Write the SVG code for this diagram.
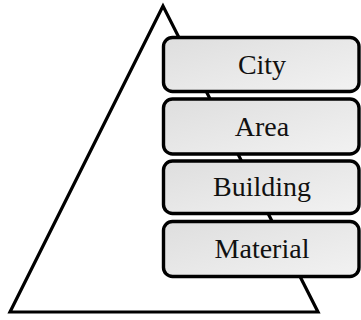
<svg xmlns="http://www.w3.org/2000/svg" width="361" height="320" viewBox="0 0 361 320">
  <defs>
    <linearGradient id="boxFill" x1="0" y1="0" x2="1" y2="1">
      <stop offset="0" stop-color="#dedede"/>
      <stop offset="0.5" stop-color="#e8e8e8"/>
      <stop offset="1" stop-color="#f2f2f2"/>
    </linearGradient>
  </defs>
  <style>
    .tri { fill: #ffffff; stroke: #000000; stroke-width: 3.2; stroke-linejoin: miter; }
    .box { fill: url(#boxFill); stroke: #000000; stroke-width: 3.4; }
    .label { font-family: "Liberation Serif", "Times New Roman", serif; font-size: 28px; fill: #111111; text-anchor: middle; }
  </style>

  <!-- pyramid outline behind the level boxes -->
  <g id="connectors">
    <polygon class="tri" points="163,6 10,312 318,312"/>
  </g>

  <g id="city">
    <rect class="box" x="163.5" y="37.5" width="195.5" height="54" rx="9" ry="9"/>
    <text class="label" x="262" y="73.5">City</text>
  </g>
  <g id="area">
    <rect class="box" x="163.5" y="99" width="195.5" height="55" rx="9" ry="9"/>
    <text class="label" x="262" y="135.5">Area</text>
  </g>
  <g id="building">
    <rect class="box" x="163.5" y="161" width="195.5" height="52.5" rx="9" ry="9"/>
    <text class="label" x="262" y="196">Building</text>
  </g>
  <g id="material">
    <rect class="box" x="163.5" y="221.5" width="195.5" height="55" rx="9" ry="9"/>
    <text class="label" x="262" y="257.5">Material</text>
  </g>
</svg>
